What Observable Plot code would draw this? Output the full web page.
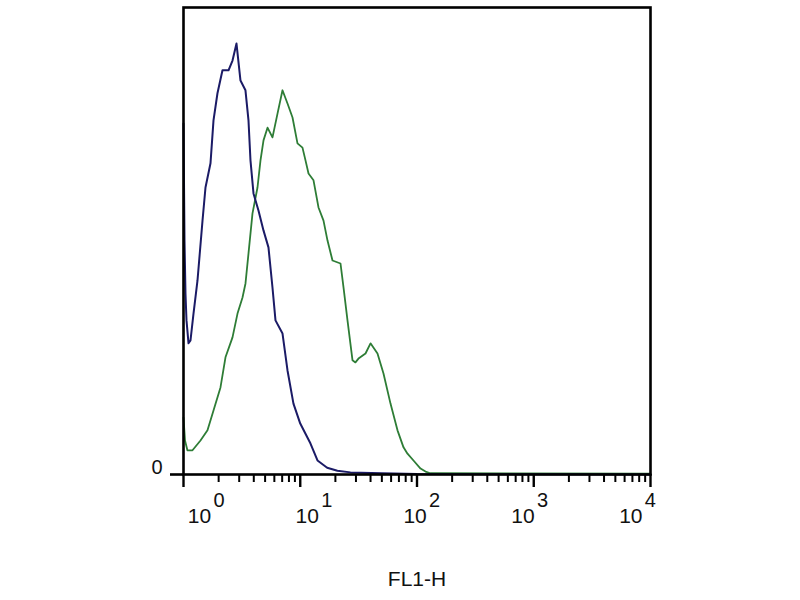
<!DOCTYPE html>
<html>
<head>
<meta charset="utf-8">
<script src="https://cdn.jsdelivr.net/npm/d3@7"></script>
<script src="https://cdn.jsdelivr.net/npm/@observablehq/plot@0.6"></script>
<style>
  html, body { margin: 0; padding: 0; background: #fff; }
  #chart svg { display: block; }
</style>
</head>
<body>
<div id="chart"></div>
<script>
// Control (navy) histogram: FL1-H value vs. count
const blueX = [1.000, 1.020, 1.040, 1.061, 1.104, 1.148, 1.218, 1.318, 1.455, 1.543, 1.703, 1.807, 1.954, 2.157, 2.430, 2.629, 2.844, 3.077, 3.394, 3.603, 3.747, 3.977, 4.387, 4.842, 5.343, 5.780, 6.136, 7.049, 7.778, 8.745, 10.0, 12.24, 14.05, 17.0, 20.8, 26.9, 50, 100, 10000];
const blueY = [82.7, 55.1, 42.6, 36.3, 30.9, 31.6, 37.9, 45.7, 59.8, 67.6, 73.3, 83.4, 89.8, 95.2, 95.2, 97.5, 101.5, 92.8, 90.5, 83.4, 74.0, 66.2, 62.2, 57.5, 53.5, 44.1, 36.3, 33.2, 24.5, 16.7, 12.0, 7.3, 3.3, 1.6, 0.9, 0.5, 0.3, 0.1, 0];

// Stained (green) histogram
const greenX = [1.000, 1.03, 1.08, 1.194, 1.398, 1.605, 1.807, 2.074, 2.289, 2.629, 2.901, 3.202, 3.396, 3.604, 3.899, 4.303, 4.565, 4.845, 5.243, 5.784, 6.385, 7.046, 7.778, 8.585, 9.47, 10.45, 11.09, 11.77, 12.99, 14.33, 15.82, 17.12, 18.89, 22.12, 23.47, 25.39, 28.03, 29.7, 31.54, 36.22, 39.98, 45.88, 51.64, 59.29, 68.08, 76.63, 82.9, 93.3, 107.2, 118.3, 130, 10000];
const greenY = [13.4, 8.0, 5.7, 5.7, 8.0, 10.4, 15.1, 20.5, 27.6, 32.3, 37.9, 41.7, 45.0, 52.1, 61.5, 67.6, 74.0, 78.7, 81.7, 79.4, 85.0, 90.5, 87.4, 84.1, 78.0, 77.0, 74.0, 70.9, 69.3, 62.9, 59.8, 55.1, 50.4, 49.7, 44.1, 36.3, 26.9, 26.4, 27.3, 28.5, 30.9, 28.5, 23.8, 16.7, 10.4, 6.4, 4.9, 3.3, 1.4, 0.7, 0.3, 0.2];

const majorTicks = [1, 10, 100, 1000, 10000];
const tickBase = "10";
const tickExponents = ["0", "1", "2", "3", "4"];
const minorTicks = [2, 3, 4, 5, 6, 7, 8, 9, 20, 30, 40, 50, 60, 70, 80, 90, 200, 300, 400, 500, 600, 700, 800, 900, 2000, 3000, 4000, 5000, 6000, 7000, 8000, 9000];
const yTicks = [0];
const yTickLabels = ["0"];
const xLabel = "FL1-H";

const blue = blueX.map((x, i) => ({x, y: blueY[i]}));
const green = greenX.map((x, i) => ({x, y: greenY[i]}));

const font = "'Liberation Sans', Arial, sans-serif";
const noText = () => "";

const labelMarks = majorTicks.flatMap((t, i) => {
  const off = 15.9 - 8.9 * i;
  return [
    Plot.text([t], {x: d => d, frameAnchor: "bottom", lineAnchor: "middle", dy: 41.5, dx: off, text: () => tickBase, fontSize: 21, fill: "#111", textAnchor: "middle"}),
    Plot.text([t], {x: d => d, frameAnchor: "bottom", lineAnchor: "middle", dy: 26, dx: off + 14, text: () => tickExponents[i], fontSize: 20, fill: "#111", textAnchor: "start"})
  ];
});

const chart = Plot.plot({
  width: 800,
  height: 600,
  marginLeft: 183,
  marginRight: 150,
  marginTop: 7,
  marginBottom: 126,
  style: {background: "#fff", fontFamily: font, color: "#111"},
  x: {type: "log", domain: [1, 10000], axis: null},
  y: {domain: [0, 110], axis: null},
  marks: [
    Plot.line(green, {x: "x", y: "y", stroke: "#2e7d36", strokeWidth: 1.8}),
    Plot.line(blue, {x: "x", y: "y", stroke: "#1b1b66", strokeWidth: 2}),
    Plot.frame({stroke: "#000", strokeWidth: 2.6}),
    Plot.axisX(minorTicks, {anchor: "bottom", tickSize: 8, strokeWidth: 2, stroke: "#000", tickFormat: noText, label: null}),
    Plot.axisX(majorTicks, {anchor: "bottom", tickSize: 13, strokeWidth: 2.4, stroke: "#000", tickFormat: noText, label: null}),
    Plot.axisY(yTicks, {anchor: "left", tickSize: 13, strokeWidth: 2.6, stroke: "#000", tickFormat: noText, label: null}),
    Plot.text(yTicks, {y: d => d, frameAnchor: "left", dx: -21, dy: -6.5, text: (d, i) => yTickLabels[i], textAnchor: "end", fontSize: 20, fill: "#111"}),
    ...labelMarks,
    Plot.text([xLabel], {frameAnchor: "bottom", lineAnchor: "middle", dy: 104.5, text: d => d, fontSize: 21, fill: "#111"})
  ]
});

document.getElementById("chart").appendChild(chart);
</script>
</body>
</html>
